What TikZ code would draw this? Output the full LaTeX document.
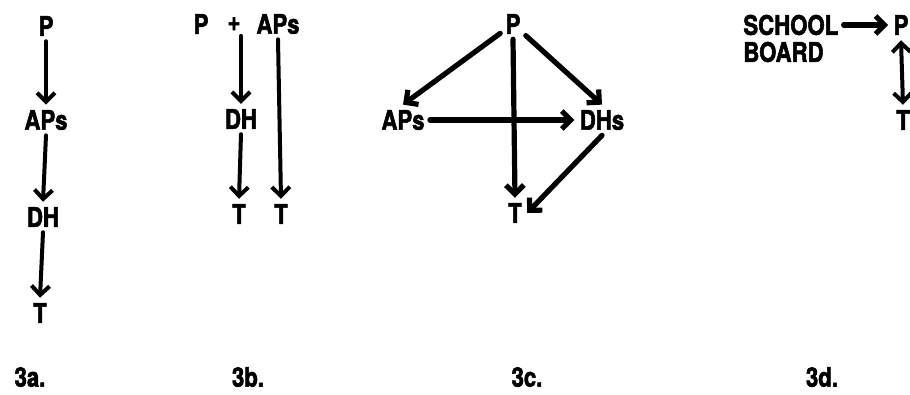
\documentclass[tikz,border=0pt]{standalone}
\usepackage{fontspec}
\setmainfont{TeX Gyre Heros}[FakeStretch=0.82, BoldFeatures={FakeBold=2}]
\usetikzlibrary{arrows.meta, positioning}

\tikzset{
  lbl/.style={font=\fontsize{13.5}{15}\selectfont\bfseries, inner sep=2.5pt},
  flow/.style={-{Straight Barb[length=4.5pt, width=9pt]}, line width=2pt},
  heavy flow/.style={flow, line width=2.6pt},
  both flow/.style={{Straight Barb[length=4.5pt, width=9pt]}-{Straight Barb[length=4.5pt, width=9pt]},
                    line width=2pt}
}

\begin{document}
\begin{tikzpicture}[x=0.5pt, y=-0.5pt, line cap=round, line join=round]
  \useasboundingbox (0,0) rectangle (910,395);
  % (3a) a single chain
  \node[lbl] (pA)   at (46,26)  {P};
  \node[lbl] (apsA) at (46,120) {APs};
  \node[lbl] (dhA)  at (43,217) {DH};
  \node[lbl] (tA)   at (40,313) {T};
  \draw[flow] (pA.south)   -- (apsA.north);
  \draw[flow] (apsA.south) -- (dhA.north);
  \draw[flow] (dhA.south)  -- (tA.north);
  % (3b) P and APs together
  \node[lbl] (pB)    at (201,24) {P};
  \node[lbl] (plusB) at (234,24) {+};
  \node[lbl] (apsB)  at (278,24) {APs};
  \node[lbl] (dhB)   at (241,119) {DH};
  \node[lbl] (tB)    at (239,214) {T};
  \node[lbl] (tBB)   at (281,214) {T};
  \draw[flow] (plusB.south -| dhB.north) -- (dhB.north);
  \draw[flow] (dhB.south)   -- (tB.north);
  \draw[flow] (apsB.south)  -- (tBB.north);
  % (3c) P reaches every level
  \node[lbl] (pC)   at (513,24)  {P};
  \node[lbl] (apsC) at (403,120) {APs};
  \node[lbl] (dhsC) at (602,120) {DHs};
  \node[lbl] (tC)   at (515,213) {T};
  \draw[heavy flow] (pC) -- (apsC.north);
  \draw[heavy flow] (pC) -- (dhsC.north);
  \draw[heavy flow] (pC.south) -- (tC.north);
  \draw[heavy flow] (apsC.east) -- (dhsC.west);
  \draw[heavy flow] (dhsC.south) -- (tC.east);
  % (3d) the board above P
  \node[lbl, anchor=west] (school) at (738,25) {SCHOOL};
  \node[lbl, anchor=west] (board)  at (738,52) {BOARD};
  \node[lbl] (pD) at (901,25)  {P};
  \node[lbl] (tD) at (903,120) {T};
  \draw[heavy flow] (school.east) -- (pD.west);
  \draw[both flow] (pD.south) -- (tD.north);
  % captions
  \node[lbl] (capA) at (30,377)  {3a.};
  \node[lbl] (capB) at (248,377) {3b.};
  \node[lbl] (capC) at (527,377) {3c.};
  \node[lbl] (capD) at (822,377) {3d.};
\end{tikzpicture}
\end{document}
